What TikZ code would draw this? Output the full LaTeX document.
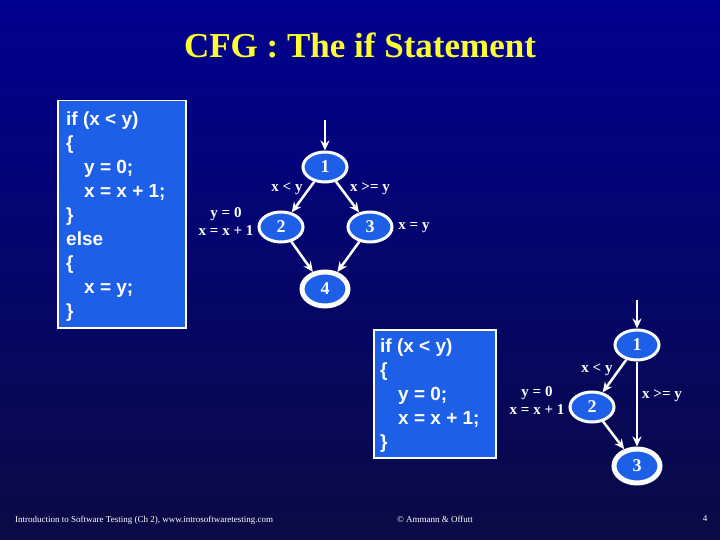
\documentclass[tikz,border=0pt]{standalone}
\usepackage{fontspec}
\setmainfont{Liberation Serif}
\newfontfamily\codefont{Liberation Sans}
\usetikzlibrary{arrows.meta,shapes.geometric}
\definecolor{bgtop}{HTML}{00008F}
\definecolor{bgbot}{HTML}{0A0A45}
\definecolor{nodeblue}{HTML}{1E5FE8}
\definecolor{titleyellow}{HTML}{FFFF33}
\tikzset{
  cfgnode/.style={ellipse, draw=white, line width=3pt, fill=nodeblue, minimum width=44pt, minimum height=30pt, inner sep=0pt, text=white, font=\fontsize{18}{20}\selectfont\bfseries},
  finalnode/.style={cfgnode, line width=5pt, minimum width=46pt, minimum height=34pt},
  codebox/.style={rectangle, draw=white, line width=1.5pt, fill=nodeblue, inner sep=0pt},
  codetext/.style={anchor=north west, inner sep=0pt, align=left, text=white, font=\codefont\bfseries\fontsize{19}{24}\selectfont},
  edgelbl/.style={text=white, font=\fontsize{15}{18}\selectfont\bfseries, inner sep=1pt},
  cfgedge/.style={draw=white, line width=2.5pt, -{Stealth[length=10pt,width=9pt]}},
  foot/.style={text=white, font=\fontsize{9}{10}\selectfont, inner sep=0pt}
}
\begin{document}
\begin{tikzpicture}[x=1pt,y=-1pt]
\useasboundingbox (0,0) rectangle (720,540);
\shade[top color=bgtop, bottom color=bgbot] (0,0) rectangle (720,540);
% title
\node[text=titleyellow, font=\fontsize{35}{40}\selectfont\bfseries] (title) at (360,45) {CFG : The if Statement};
% code box 1
\node[codebox, anchor=north west, minimum width=128pt, minimum height=227pt] (box1) at (57,100) {};
\node[codetext] (code1) at (66,112) {if (x < y)\\
\{\\
\hspace*{18pt}y = 0;\\
\hspace*{18pt}x = x + 1;\\
\}\\
else\\
\{\\
\hspace*{18pt}x = y;\\
\}};
% graph 1
\node[cfgnode] (a1) at (325,167) {1};
\node[cfgnode] (a2) at (281,227) {2};
\node[cfgnode] (a3) at (370,227) {3};
\node[finalnode] (a4) at (325,289) {4};
\coordinate (a0) at (325,120);
\draw[cfgedge] (a0) -- (a1);
\draw[cfgedge] (a1) -- (a2);
\draw[cfgedge] (a1) -- (a3);
\draw[cfgedge] (a2) -- (a4);
\draw[cfgedge] (a3) -- (a4);
\node[edgelbl] (la12) at (287,189) {x < y};
\node[edgelbl] (la13) at (370,189) {x >= y};
\node[edgelbl, align=center] (la2) at (226,222) {y = 0\\x = x + 1};
\node[edgelbl] (la3) at (414,228) {x = y};
% code box 2
\node[codebox, anchor=north west, minimum width=122pt, minimum height=128pt] (box2) at (373,329) {};
\node[codetext] (code2) at (380,339) {if (x < y)\\
\{\\
\hspace*{18pt}y = 0;\\
\hspace*{18pt}x = x + 1;\\
\}};
% graph 2
\node[cfgnode] (b1) at (637,345) {1};
\node[cfgnode] (b2) at (592,407) {2};
\node[finalnode] (b3) at (637,466) {3};
\coordinate (b0) at (637,300);
\draw[cfgedge] (b0) -- (b1);
\draw[cfgedge] (b1) -- (b2);
\draw[cfgedge] (b1) -- (b3);
\draw[cfgedge] (b2) -- (b3);
\node[edgelbl] (lb12) at (597,370) {x < y};
\node[edgelbl] (lb13) at (662,396) {x >= y};
\node[edgelbl, align=center] (lb2) at (537,401) {y = 0\\x = x + 1};
% footer
\node[foot, anchor=west] (f1) at (15,520) {Introduction to Software Testing (Ch 2), www.introsoftwaretesting.com};
\node[foot] (f2) at (435,519) {© Ammann \& Offutt};
\node[foot] (f3) at (705,519) {4};
\end{tikzpicture}
\end{document}
